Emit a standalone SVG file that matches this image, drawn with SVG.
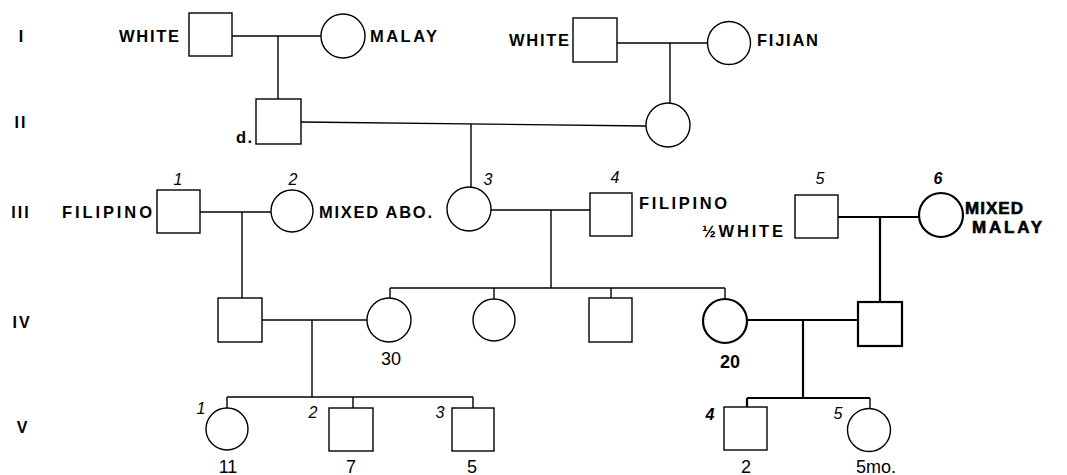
<svg xmlns="http://www.w3.org/2000/svg" width="1067" height="475" viewBox="0 0 1067 475">
<style>
.n{fill:#fff;stroke:#000;stroke-width:1.4}
.nb{fill:#fff;stroke:#000;stroke-width:2.2}
.c{stroke:#000;stroke-width:1.4;fill:none}
.cb{stroke:#000;stroke-width:2.2;fill:none}
.lab{font-family:"Liberation Sans",Arial,sans-serif;font-weight:bold;font-size:16.5px;fill:#000}
.labb{font-family:"Liberation Sans",Arial,sans-serif;font-weight:900;font-size:17px;fill:#000;stroke:#000;stroke-width:0.6}
.rom{font-family:"Liberation Sans",Arial,sans-serif;font-weight:bold;font-size:16px;letter-spacing:2px;fill:#000;text-anchor:middle}
.idx{font-family:"Liberation Sans",Arial,sans-serif;font-style:italic;font-size:16px;fill:#000;text-anchor:middle}
.age{font-family:"Liberation Sans",Arial,sans-serif;font-size:18px;fill:#000;text-anchor:middle}
.ageb{font-family:"Liberation Sans",Arial,sans-serif;font-weight:bold;font-size:18px;fill:#000;text-anchor:middle}
</style>
<g id="generations">
<text class="rom" x="22" y="42">I</text>
<text class="rom" x="21" y="128">II</text>
<text class="rom" x="21" y="218">III</text>
<text class="rom" x="22" y="328">IV</text>
<text class="rom" x="23" y="433">V</text>
</g>
<g id="connectors">
<line class="c" x1="232" y1="36" x2="321" y2="36"/>
<line class="c" x1="278" y1="36" x2="278" y2="99"/>
<line class="c" x1="617" y1="43" x2="707.5" y2="43"/>
<line class="c" x1="670" y1="43" x2="670" y2="103"/>
<line class="c" x1="301" y1="122" x2="646" y2="126"/>
<line class="c" x1="471" y1="124" x2="471" y2="187"/>
<line class="c" x1="200" y1="212" x2="271" y2="212"/>
<line class="c" x1="242" y1="212" x2="242" y2="298"/>
<line class="c" x1="491" y1="210" x2="590" y2="210"/>
<line class="c" x1="551" y1="210" x2="551" y2="288"/>
<line class="c" x1="390" y1="288" x2="725" y2="288"/>
<line class="c" x1="390" y1="288" x2="390" y2="298"/>
<line class="c" x1="494" y1="288" x2="494" y2="299"/>
<line class="c" x1="611" y1="288" x2="611" y2="298"/>
<line class="c" x1="725" y1="288" x2="725" y2="299"/>
<line class="cb" x1="838" y1="217" x2="919" y2="217"/>
<line class="cb" x1="880" y1="217" x2="880" y2="302"/>
<line class="c" x1="262" y1="320" x2="367" y2="320"/>
<line class="c" x1="312" y1="320" x2="312" y2="397"/>
<line class="cb" x1="747" y1="320" x2="858" y2="320"/>
<line class="cb" x1="803" y1="320" x2="803" y2="398"/>
<line class="c" x1="227" y1="397" x2="473" y2="397"/>
<line class="c" x1="227" y1="397" x2="227" y2="408"/>
<line class="c" x1="353" y1="397" x2="353" y2="408"/>
<line class="c" x1="473" y1="397" x2="473" y2="408"/>
<line class="cb" x1="747" y1="398" x2="870" y2="398"/>
<line class="cb" x1="747" y1="398" x2="747" y2="407"/>
<line class="c" x1="870" y1="398" x2="870" y2="408.5"/>
</g>
<g id="I-1"><rect class="n" x="189" y="13" width="43" height="43"/><text class="lab" x="119" y="42" textLength="60" lengthAdjust="spacing">WHITE</text></g>
<g id="I-2"><circle class="n" cx="343" cy="36" r="22"/><text class="lab" x="370" y="42" textLength="67" lengthAdjust="spacing">MALAY</text></g>
<g id="I-3"><rect class="n" x="573" y="18" width="44" height="44"/><text class="lab" x="509" y="46" textLength="60" lengthAdjust="spacing">WHITE</text></g>
<g id="I-4"><circle class="n" cx="729" cy="43" r="21.5"/><text class="lab" x="757" y="46" textLength="61" lengthAdjust="spacing">FIJIAN</text></g>
<g id="II-1"><rect class="n" x="256" y="99" width="45" height="45"/><text class="lab" x="236" y="143" textLength="16" lengthAdjust="spacing">d.</text></g>
<g id="II-2"><circle class="n" cx="668" cy="125" r="22"/></g>
<g id="III-1"><rect class="n" x="157" y="190" width="43" height="43"/><text class="idx" x="178" y="185">1</text><text class="lab" x="62" y="218" textLength="90" lengthAdjust="spacing">FILIPINO</text></g>
<g id="III-2"><circle class="n" cx="292" cy="211" r="21"/><text class="idx" x="293" y="185">2</text><text class="lab" x="319" y="218" textLength="113" lengthAdjust="spacing">MIXED ABO.</text></g>
<g id="III-3"><circle class="n" cx="469" cy="209" r="22"/><text class="idx" x="488" y="185">3</text></g>
<g id="III-4"><rect class="n" x="590" y="193" width="42" height="43"/><text class="idx" x="615" y="183">4</text><text class="lab" x="639" y="209" textLength="88" lengthAdjust="spacing">FILIPINO</text></g>
<g id="III-5"><rect class="n" x="795" y="195" width="43" height="43"/><text class="idx" x="820" y="184">5</text><text class="lab" x="702" y="237" textLength="81" lengthAdjust="spacing">½WHITE</text></g>
<g id="III-6"><circle class="nb" cx="941" cy="215" r="22"/><text class="idx" x="938" y="184" font-weight="bold">6</text><text class="labb" x="965" y="214" textLength="58" lengthAdjust="spacing">MIXED</text><text class="labb" x="972" y="233" textLength="70" lengthAdjust="spacing">MALAY</text></g>
<g id="IV-1"><rect class="n" x="218" y="298" width="44" height="44"/></g>
<g id="IV-2"><circle class="n" cx="389" cy="320" r="22"/><text class="age" x="391" y="365">30</text></g>
<g id="IV-3"><circle class="n" cx="494" cy="320" r="21"/></g>
<g id="IV-4"><rect class="n" x="589" y="298" width="43" height="44"/></g>
<g id="IV-5"><circle class="nb" cx="725" cy="321" r="22"/><text class="ageb" x="730" y="368">20</text></g>
<g id="IV-6"><rect class="nb" x="858" y="302" width="44" height="44"/></g>
<g id="V-1"><circle class="n" cx="227" cy="429" r="21"/><text class="idx" x="201" y="414">1</text><text class="age" x="228" y="473">11</text></g>
<g id="V-2"><rect class="n" x="329" y="408" width="44" height="43"/><text class="idx" x="313" y="418">2</text><text class="age" x="351" y="473">7</text></g>
<g id="V-3"><rect class="n" x="452" y="408" width="42" height="43"/><text class="idx" x="440" y="418">3</text><text class="age" x="472" y="473">5</text></g>
<g id="V-4"><rect class="n" x="724" y="407" width="43" height="43"/><text class="idx" x="710" y="420" font-weight="bold">4</text><text class="age" x="746" y="473">2</text></g>
<g id="V-5"><circle class="n" cx="869" cy="430" r="21.5"/><text class="idx" x="838" y="419">5</text><text class="age" x="876" y="473">5mo.</text></g>
</svg>
